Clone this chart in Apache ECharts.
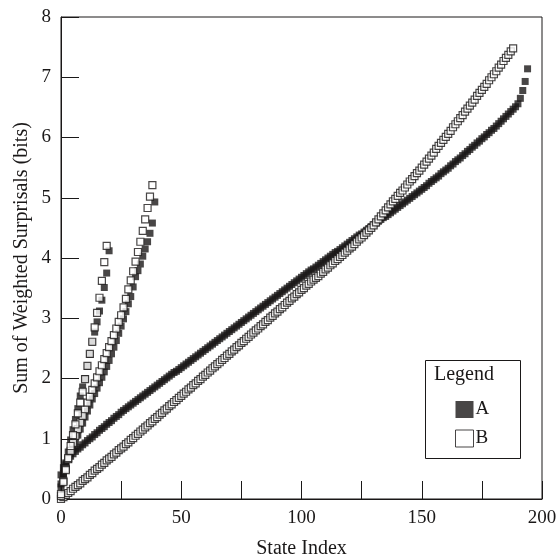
<!DOCTYPE html>
<html><head><meta charset="utf-8">
<script src="https://cdn.jsdelivr.net/npm/echarts@6/dist/echarts.min.js"></script>
<style>html,body{margin:0;padding:0;background:#fff}#c{width:557px;height:560px}</style>
</head><body><div id="c"></div>
<script>
// Long curves (index starts at 0)
const longA = [
0.40,0.52,0.60,0.66,0.71,0.75,0.79,0.83,0.86,0.90,
0.93,0.97,1.00,1.03,1.07,1.10,1.14,1.17,1.20,1.24,
1.27,1.30,1.34,1.37,1.40,1.44,1.47,1.50,1.53,1.56,
1.59,1.62,1.65,1.68,1.71,1.74,1.77,1.80,1.83,1.86,
1.89,1.92,1.95,1.98,2.01,2.04,2.07,2.10,2.12,2.15,
2.18,2.21,2.24,2.27,2.30,2.33,2.36,2.39,2.42,2.45,
2.48,2.51,2.54,2.57,2.60,2.63,2.66,2.69,2.72,2.75,
2.78,2.81,2.84,2.87,2.90,2.93,2.96,2.99,3.02,3.05,
3.08,3.11,3.14,3.17,3.20,3.23,3.26,3.29,3.32,3.35,
3.38,3.41,3.44,3.47,3.50,3.53,3.56,3.59,3.62,3.65,
3.68,3.71,3.74,3.77,3.80,3.82,3.85,3.88,3.91,3.94,
3.97,4.00,4.03,4.06,4.09,4.11,4.14,4.17,4.20,4.23,
4.26,4.29,4.32,4.35,4.38,4.40,4.43,4.46,4.49,4.52,
4.55,4.58,4.61,4.64,4.67,4.69,4.72,4.75,4.78,4.81,
4.84,4.87,4.90,4.93,4.96,4.99,5.02,5.05,5.08,5.11,
5.14,5.17,5.20,5.24,5.27,5.30,5.33,5.36,5.40,5.43,
5.46,5.49,5.53,5.56,5.60,5.63,5.66,5.70,5.73,5.77,
5.80,5.84,5.87,5.91,5.94,5.98,6.01,6.05,6.08,6.12,
6.15,6.19,6.23,6.27,6.31,6.35,6.39,6.43,6.47,6.51,
6.56,6.65,6.78,6.93,7.14
];
const longB = [
0.00,0.03,0.07,0.10,0.13,0.17,0.20,0.23,0.26,0.30,
0.33,0.36,0.40,0.43,0.47,0.50,0.53,0.57,0.60,0.64,
0.67,0.70,0.74,0.77,0.81,0.84,0.87,0.91,0.94,0.98,
1.01,1.05,1.08,1.12,1.15,1.19,1.22,1.26,1.29,1.33,
1.36,1.40,1.43,1.47,1.50,1.54,1.57,1.61,1.64,1.68,
1.71,1.75,1.78,1.82,1.85,1.89,1.92,1.96,1.99,2.03,
2.06,2.10,2.13,2.17,2.20,2.24,2.27,2.31,2.34,2.38,
2.41,2.45,2.48,2.52,2.55,2.59,2.62,2.66,2.69,2.73,
2.76,2.80,2.83,2.87,2.90,2.94,2.97,3.01,3.04,3.08,
3.11,3.15,3.18,3.22,3.26,3.29,3.33,3.36,3.40,3.43,
3.47,3.50,3.54,3.57,3.61,3.64,3.67,3.70,3.74,3.77,
3.81,3.84,3.88,3.91,3.95,3.98,4.02,4.05,4.09,4.12,
4.16,4.19,4.23,4.27,4.31,4.34,4.38,4.42,4.46,4.50,
4.54,4.59,4.64,4.69,4.74,4.79,4.84,4.89,4.94,4.98,
5.03,5.08,5.12,5.17,5.22,5.27,5.31,5.36,5.41,5.45,
5.50,5.55,5.60,5.65,5.70,5.75,5.81,5.86,5.91,5.96,
6.01,6.06,6.11,6.17,6.22,6.27,6.32,6.37,6.43,6.48,
6.53,6.58,6.63,6.69,6.74,6.79,6.84,6.89,6.95,7.00,
7.05,7.10,7.16,7.21,7.27,7.32,7.37,7.43,7.48
];
// Short curves
const shortA = [0.20,0.38,0.58,0.78,0.98,1.15,1.32,1.50,1.71,1.86,2.00,2.20,2.40,2.60,2.77,2.94,3.12,3.30,3.51,3.75,4.12];
const shortB = [0.08,0.28,0.48,0.68,0.88,1.06,1.24,1.42,1.60,1.78,1.99,2.21,2.41,2.61,2.85,3.09,3.34,3.62,3.93,4.20];
// Medium curves
const medA = [0.25,0.42,0.55,0.66,0.76,0.86,0.96,1.06,1.16,1.26,1.36,1.46,1.56,1.66,1.75,1.84,1.93,2.02,2.11,2.20,
2.30,2.41,2.52,2.63,2.75,2.87,2.99,3.11,3.24,3.36,3.52,3.69,3.79,3.90,4.03,4.15,4.27,4.41,4.58,4.93];
const medB = [0.05,0.30,0.50,0.66,0.80,0.93,1.05,1.16,1.27,1.38,1.49,1.60,1.70,1.81,1.92,2.02,2.12,2.22,2.32,2.42,
2.52,2.62,2.72,2.83,2.94,3.05,3.18,3.32,3.48,3.63,3.78,3.94,4.10,4.27,4.45,4.64,4.83,5.02,5.21];

const xTickStep = 25, xLabelStep = 50;
const ink = '#1a1818';
const font = 'Liberation Serif';

const toPts = arr => arr.map((v, i) => [i, v]);
const filled = {color: ink};
const open = {color: '#ffffff', borderColor: ink, borderWidth: 1.2};
const mk = 7;

const chart = echarts.init(document.getElementById('c'), null, {renderer: 'canvas'});
chart.setOption({
  animation: false,
  backgroundColor: '#fff',
  grid: {left: 61, right: 15, top: 17, bottom: 61, show: true, borderColor: ink, borderWidth: 1,
         containLabel: false, outerBoundsMode: 'none'},
  xAxis: {
    type: 'value', min: 0, max: 200, interval: xTickStep,
    name: 'State Index', nameLocation: 'middle', nameGap: 40, nameMoveOverlap: false,
    nameTextStyle: {fontFamily: font, fontSize: 20, color: ink},
    axisLine: {lineStyle: {color: ink, width: 1}},
    axisTick: {inside: true, length: 18, lineStyle: {color: ink}},
    axisLabel: {fontFamily: font, fontSize: 19, color: ink, margin: 10,
      formatter: v => (v % xLabelStep === 0 ? String(v) : '')},
    splitLine: {show: false}
  },
  yAxis: {
    type: 'value', min: 0, max: 8, interval: 1,
    name: 'Sum of Weighted Surprisals (bits)', nameLocation: 'middle', nameGap: 29, nameMoveOverlap: false,
    nameTextStyle: {fontFamily: font, fontSize: 20, color: ink},
    axisLine: {lineStyle: {color: ink, width: 1}},
    axisTick: {inside: true, length: 18, lineStyle: {color: ink}},
    axisLabel: {fontFamily: font, fontSize: 19, color: ink, margin: 10},
    splitLine: {show: false}
  },
  legend: {
    orient: 'vertical', left: 450, top: 395, itemWidth: 18, itemHeight: 17, itemGap: 10,
    icon: 'rect',
    textStyle: {fontFamily: font, fontSize: 19, color: ink, padding: [0,0,0,-3]},
    data: [
      {name: 'A', itemStyle: {color: ink}},
      {name: 'B', itemStyle: {color: '#fff', borderColor: ink, borderWidth: 1}}
    ]
  },
  graphic: [
    {type: 'rect', left: 423, top: 358, shape: {width: 95, height: 98},
     style: {fill: 'none', stroke: ink, lineWidth: 1}},
    {type: 'text', left: 434, top: 365, style: {text: 'Legend', font: '20px "Liberation Serif"', fill: ink}}
  ],
  series: [
    {name: 'A', type: 'scatter', symbol: 'rect', symbolSize: mk, itemStyle: filled, data: toPts(longA)},
    {name: 'A', type: 'scatter', symbol: 'rect', symbolSize: mk, itemStyle: filled, data: toPts(medA)},
    {name: 'A', type: 'scatter', symbol: 'rect', symbolSize: mk, itemStyle: filled, data: toPts(shortA)},
    {name: 'B', type: 'scatter', symbol: 'rect', symbolSize: mk, itemStyle: open, data: toPts(longB)},
    {name: 'B', type: 'scatter', symbol: 'rect', symbolSize: mk, itemStyle: open, data: toPts(medB)},
    {name: 'B', type: 'scatter', symbol: 'rect', symbolSize: mk, itemStyle: open, data: toPts(shortB)}
  ]
});
</script></body></html>
